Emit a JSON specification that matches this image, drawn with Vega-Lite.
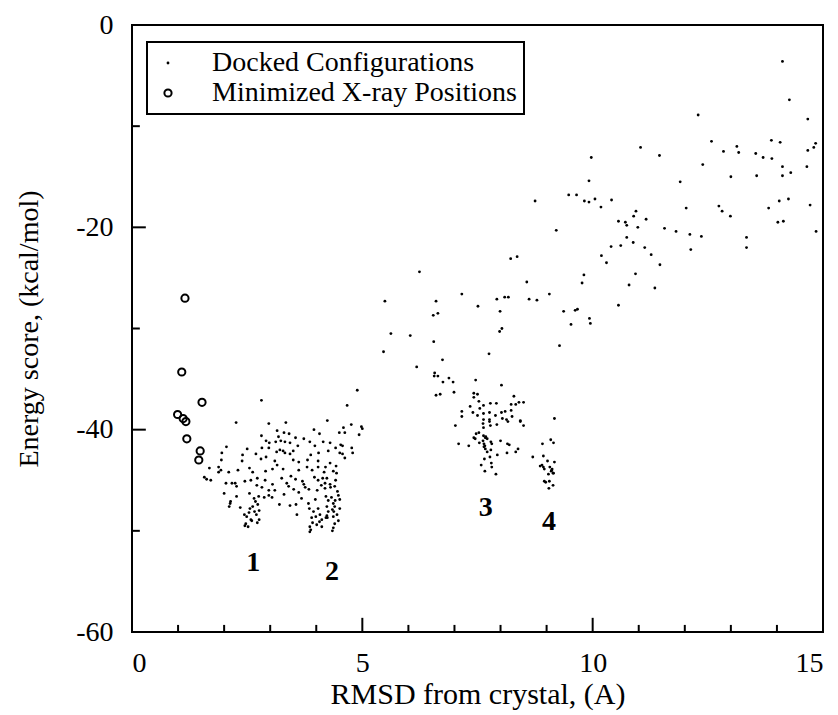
{
  "$schema": "https://vega.github.io/schema/vega-lite/v6.json",
  "width": 691,
  "height": 607,
  "autosize": "none",
  "padding": {"left": 132, "top": 25, "right": 15, "bottom": 83},
  "background": "white",
  "config": {
    "view": {"stroke": "black", "strokeWidth": 2},
    "font": "Liberation Serif",
    "scale": {"continuousPadding": 0},
    "axis": {
      "grid": false,
      "domain": false,
      "ticks": false,
      "labelColor": "black",
      "titleColor": "black",
      "labelFont": "Liberation Serif",
      "titleFont": "Liberation Serif",
      "titleFontWeight": "normal"
    },
    "legend": {
      "orient": "none",
      "legendX": 15,
      "legendY": 17,
      "strokeColor": "black",
      "strokeWidth": 2,
      "fillColor": "white",
      "padding": 7,
      "rowPadding": 2,
      "labelFont": "Liberation Serif",
      "labelFontSize": 28,
      "labelColor": "black",
      "labelLimit": 500,
      "labelOffset": 30,
      "symbolType": "circle"
    }
  },
  "datasets": {
    "pts": [
      {"rmsd": 14.12, "energy": -3.6, "set": "D"},
      {"rmsd": 14.27, "energy": -7.4, "set": "D"},
      {"rmsd": 12.29, "energy": -8.9, "set": "D"},
      {"rmsd": 14.67, "energy": -9.3, "set": "D"},
      {"rmsd": 11.04, "energy": -12.1, "set": "D"},
      {"rmsd": 11.45, "energy": -12.9, "set": "D"},
      {"rmsd": 12.58, "energy": -11.5, "set": "D"},
      {"rmsd": 13.13, "energy": -12.0, "set": "D"},
      {"rmsd": 12.84, "energy": -12.5, "set": "D"},
      {"rmsd": 13.17, "energy": -12.6, "set": "D"},
      {"rmsd": 13.88, "energy": -11.4, "set": "D"},
      {"rmsd": 14.07, "energy": -11.6, "set": "D"},
      {"rmsd": 13.54, "energy": -12.7, "set": "D"},
      {"rmsd": 13.70, "energy": -13.1, "set": "D"},
      {"rmsd": 13.89, "energy": -13.2, "set": "D"},
      {"rmsd": 14.84, "energy": -11.7, "set": "D"},
      {"rmsd": 14.80, "energy": -12.1, "set": "D"},
      {"rmsd": 14.67, "energy": -12.4, "set": "D"},
      {"rmsd": 12.39, "energy": -13.8, "set": "D"},
      {"rmsd": 14.12, "energy": -14.0, "set": "D"},
      {"rmsd": 14.30, "energy": -14.6, "set": "D"},
      {"rmsd": 14.65, "energy": -14.0, "set": "D"},
      {"rmsd": 13.00, "energy": -15.0, "set": "D"},
      {"rmsd": 13.56, "energy": -14.9, "set": "D"},
      {"rmsd": 14.12, "energy": -14.9, "set": "D"},
      {"rmsd": 11.90, "energy": -15.5, "set": "D"},
      {"rmsd": 10.41, "energy": -17.3, "set": "D"},
      {"rmsd": 10.18, "energy": -18.0, "set": "D"},
      {"rmsd": 10.94, "energy": -18.4, "set": "D"},
      {"rmsd": 10.89, "energy": -18.9, "set": "D"},
      {"rmsd": 10.56, "energy": -19.4, "set": "D"},
      {"rmsd": 10.71, "energy": -19.5, "set": "D"},
      {"rmsd": 10.74, "energy": -19.8, "set": "D"},
      {"rmsd": 10.98, "energy": -20.0, "set": "D"},
      {"rmsd": 11.16, "energy": -19.2, "set": "D"},
      {"rmsd": 12.03, "energy": -18.1, "set": "D"},
      {"rmsd": 12.74, "energy": -17.9, "set": "D"},
      {"rmsd": 12.81, "energy": -18.4, "set": "D"},
      {"rmsd": 12.99, "energy": -18.9, "set": "D"},
      {"rmsd": 13.82, "energy": -18.1, "set": "D"},
      {"rmsd": 14.05, "energy": -17.4, "set": "D"},
      {"rmsd": 14.25, "energy": -17.2, "set": "D"},
      {"rmsd": 14.72, "energy": -17.8, "set": "D"},
      {"rmsd": 14.02, "energy": -19.5, "set": "D"},
      {"rmsd": 14.14, "energy": -19.4, "set": "D"},
      {"rmsd": 14.85, "energy": -20.4, "set": "D"},
      {"rmsd": 11.56, "energy": -20.1, "set": "D"},
      {"rmsd": 11.81, "energy": -20.4, "set": "D"},
      {"rmsd": 12.11, "energy": -20.7, "set": "D"},
      {"rmsd": 12.36, "energy": -20.9, "set": "D"},
      {"rmsd": 13.34, "energy": -21.0, "set": "D"},
      {"rmsd": 13.34, "energy": -22.0, "set": "D"},
      {"rmsd": 12.13, "energy": -22.2, "set": "D"},
      {"rmsd": 10.74, "energy": -21.0, "set": "D"},
      {"rmsd": 10.88, "energy": -21.5, "set": "D"},
      {"rmsd": 10.61, "energy": -21.8, "set": "D"},
      {"rmsd": 10.40, "energy": -21.9, "set": "D"},
      {"rmsd": 11.13, "energy": -22.0, "set": "D"},
      {"rmsd": 11.27, "energy": -22.7, "set": "D"},
      {"rmsd": 10.19, "energy": -22.8, "set": "D"},
      {"rmsd": 10.30, "energy": -23.5, "set": "D"},
      {"rmsd": 11.46, "energy": -23.7, "set": "D"},
      {"rmsd": 10.93, "energy": -24.6, "set": "D"},
      {"rmsd": 10.79, "energy": -25.7, "set": "D"},
      {"rmsd": 11.35, "energy": -26.0, "set": "D"},
      {"rmsd": 10.56, "energy": -27.7, "set": "D"},
      {"rmsd": 9.97, "energy": -13.1, "set": "D"},
      {"rmsd": 9.92, "energy": -15.4, "set": "D"},
      {"rmsd": 9.48, "energy": -16.8, "set": "D"},
      {"rmsd": 9.65, "energy": -16.8, "set": "D"},
      {"rmsd": 9.82, "energy": -17.4, "set": "D"},
      {"rmsd": 9.92, "energy": -17.5, "set": "D"},
      {"rmsd": 10.05, "energy": -17.2, "set": "D"},
      {"rmsd": 8.75, "energy": -17.4, "set": "D"},
      {"rmsd": 9.21, "energy": -20.3, "set": "D"},
      {"rmsd": 8.36, "energy": -22.9, "set": "D"},
      {"rmsd": 8.22, "energy": -23.1, "set": "D"},
      {"rmsd": 9.81, "energy": -24.7, "set": "D"},
      {"rmsd": 9.77, "energy": -25.5, "set": "D"},
      {"rmsd": 6.24, "energy": -24.4, "set": "D"},
      {"rmsd": 8.57, "energy": -25.4, "set": "D"},
      {"rmsd": 7.16, "energy": -26.6, "set": "D"},
      {"rmsd": 9.06, "energy": -26.6, "set": "D"},
      {"rmsd": 6.60, "energy": -27.3, "set": "D"},
      {"rmsd": 7.92, "energy": -27.1, "set": "D"},
      {"rmsd": 8.09, "energy": -26.9, "set": "D"},
      {"rmsd": 8.17, "energy": -26.9, "set": "D"},
      {"rmsd": 8.62, "energy": -27.1, "set": "D"},
      {"rmsd": 8.79, "energy": -27.2, "set": "D"},
      {"rmsd": 7.51, "energy": -27.8, "set": "D"},
      {"rmsd": 7.99, "energy": -28.3, "set": "D"},
      {"rmsd": 9.37, "energy": -28.3, "set": "D"},
      {"rmsd": 9.62, "energy": -28.2, "set": "D"},
      {"rmsd": 9.67, "energy": -28.1, "set": "D"},
      {"rmsd": 6.54, "energy": -28.7, "set": "D"},
      {"rmsd": 6.64, "energy": -28.5, "set": "D"},
      {"rmsd": 9.93, "energy": -29.0, "set": "D"},
      {"rmsd": 9.95, "energy": -29.5, "set": "D"},
      {"rmsd": 9.53, "energy": -29.6, "set": "D"},
      {"rmsd": 8.03, "energy": -30.0, "set": "D"},
      {"rmsd": 7.98, "energy": -30.3, "set": "D"},
      {"rmsd": 6.04, "energy": -30.7, "set": "D"},
      {"rmsd": 6.55, "energy": -31.3, "set": "D"},
      {"rmsd": 9.28, "energy": -31.7, "set": "D"},
      {"rmsd": 7.75, "energy": -32.5, "set": "D"},
      {"rmsd": 6.74, "energy": -33.1, "set": "D"},
      {"rmsd": 6.18, "energy": -33.8, "set": "D"},
      {"rmsd": 6.57, "energy": -34.4, "set": "D"},
      {"rmsd": 6.56, "energy": -34.7, "set": "D"},
      {"rmsd": 6.64, "energy": -34.7, "set": "D"},
      {"rmsd": 6.88, "energy": -34.9, "set": "D"},
      {"rmsd": 6.75, "energy": -35.3, "set": "D"},
      {"rmsd": 6.97, "energy": -35.3, "set": "D"},
      {"rmsd": 7.46, "energy": -35.1, "set": "D"},
      {"rmsd": 8.02, "energy": -35.6, "set": "D"},
      {"rmsd": 6.60, "energy": -36.6, "set": "D"},
      {"rmsd": 6.69, "energy": -36.5, "set": "D"},
      {"rmsd": 6.99, "energy": -36.3, "set": "D"},
      {"rmsd": 7.42, "energy": -36.4, "set": "D"},
      {"rmsd": 7.50, "energy": -36.5, "set": "D"},
      {"rmsd": 7.42, "energy": -36.8, "set": "D"},
      {"rmsd": 7.53, "energy": -37.2, "set": "D"},
      {"rmsd": 8.29, "energy": -36.7, "set": "D"},
      {"rmsd": 7.63, "energy": -37.6, "set": "D"},
      {"rmsd": 7.78, "energy": -37.4, "set": "D"},
      {"rmsd": 7.91, "energy": -37.4, "set": "D"},
      {"rmsd": 8.23, "energy": -37.5, "set": "D"},
      {"rmsd": 8.40, "energy": -37.3, "set": "D"},
      {"rmsd": 8.50, "energy": -37.3, "set": "D"},
      {"rmsd": 8.33, "energy": -37.5, "set": "D"},
      {"rmsd": 7.34, "energy": -37.7, "set": "D"},
      {"rmsd": 7.55, "energy": -37.9, "set": "D"},
      {"rmsd": 7.16, "energy": -38.2, "set": "D"},
      {"rmsd": 7.16, "energy": -38.7, "set": "D"},
      {"rmsd": 7.40, "energy": -38.3, "set": "D"},
      {"rmsd": 7.50, "energy": -38.6, "set": "D"},
      {"rmsd": 7.63, "energy": -38.4, "set": "D"},
      {"rmsd": 7.76, "energy": -38.3, "set": "D"},
      {"rmsd": 7.89, "energy": -38.6, "set": "D"},
      {"rmsd": 8.02, "energy": -38.3, "set": "D"},
      {"rmsd": 8.10, "energy": -38.2, "set": "D"},
      {"rmsd": 8.23, "energy": -38.1, "set": "D"},
      {"rmsd": 8.25, "energy": -38.7, "set": "D"},
      {"rmsd": 7.63, "energy": -39.0, "set": "D"},
      {"rmsd": 7.76, "energy": -39.0, "set": "D"},
      {"rmsd": 7.76, "energy": -39.2, "set": "D"},
      {"rmsd": 8.04, "energy": -38.9, "set": "D"},
      {"rmsd": 8.13, "energy": -39.0, "set": "D"},
      {"rmsd": 8.16, "energy": -39.2, "set": "D"},
      {"rmsd": 8.43, "energy": -39.1, "set": "D"},
      {"rmsd": 8.43, "energy": -39.2, "set": "D"},
      {"rmsd": 7.02, "energy": -39.6, "set": "D"},
      {"rmsd": 7.62, "energy": -39.4, "set": "D"},
      {"rmsd": 7.63, "energy": -39.8, "set": "D"},
      {"rmsd": 7.78, "energy": -39.6, "set": "D"},
      {"rmsd": 7.92, "energy": -39.5, "set": "D"},
      {"rmsd": 8.50, "energy": -39.6, "set": "D"},
      {"rmsd": 7.47, "energy": -40.4, "set": "D"},
      {"rmsd": 7.53, "energy": -40.3, "set": "D"},
      {"rmsd": 7.42, "energy": -40.8, "set": "D"},
      {"rmsd": 7.45, "energy": -40.9, "set": "D"},
      {"rmsd": 7.63, "energy": -40.6, "set": "D"},
      {"rmsd": 7.67, "energy": -40.8, "set": "D"},
      {"rmsd": 7.71, "energy": -40.9, "set": "D"},
      {"rmsd": 7.09, "energy": -41.4, "set": "D"},
      {"rmsd": 7.31, "energy": -41.6, "set": "D"},
      {"rmsd": 7.54, "energy": -41.3, "set": "D"},
      {"rmsd": 7.64, "energy": -41.4, "set": "D"},
      {"rmsd": 7.64, "energy": -41.7, "set": "D"},
      {"rmsd": 7.67, "energy": -41.9, "set": "D"},
      {"rmsd": 7.79, "energy": -41.2, "set": "D"},
      {"rmsd": 7.81, "energy": -41.4, "set": "D"},
      {"rmsd": 8.00, "energy": -41.1, "set": "D"},
      {"rmsd": 8.15, "energy": -41.4, "set": "D"},
      {"rmsd": 8.19, "energy": -41.5, "set": "D"},
      {"rmsd": 8.33, "energy": -42.2, "set": "D"},
      {"rmsd": 8.38, "energy": -41.9, "set": "D"},
      {"rmsd": 7.71, "energy": -42.2, "set": "D"},
      {"rmsd": 7.79, "energy": -42.0, "set": "D"},
      {"rmsd": 7.93, "energy": -42.5, "set": "D"},
      {"rmsd": 8.14, "energy": -42.3, "set": "D"},
      {"rmsd": 7.65, "energy": -42.9, "set": "D"},
      {"rmsd": 7.77, "energy": -42.7, "set": "D"},
      {"rmsd": 7.80, "energy": -43.3, "set": "D"},
      {"rmsd": 7.58, "energy": -43.5, "set": "D"},
      {"rmsd": 7.66, "energy": -44.1, "set": "D"},
      {"rmsd": 7.81, "energy": -43.7, "set": "D"},
      {"rmsd": 7.90, "energy": -44.4, "set": "D"},
      {"rmsd": 7.66, "energy": -41.6, "set": "D"},
      {"rmsd": 7.62, "energy": -41.1, "set": "D"},
      {"rmsd": 7.68, "energy": -40.7, "set": "D"},
      {"rmsd": 9.17, "energy": -38.9, "set": "D"},
      {"rmsd": 8.91, "energy": -41.4, "set": "D"},
      {"rmsd": 9.09, "energy": -41.0, "set": "D"},
      {"rmsd": 9.15, "energy": -41.3, "set": "D"},
      {"rmsd": 8.70, "energy": -42.7, "set": "D"},
      {"rmsd": 8.93, "energy": -42.6, "set": "D"},
      {"rmsd": 9.02, "energy": -43.1, "set": "D"},
      {"rmsd": 9.17, "energy": -43.2, "set": "D"},
      {"rmsd": 8.86, "energy": -43.6, "set": "D"},
      {"rmsd": 8.93, "energy": -43.7, "set": "D"},
      {"rmsd": 8.95, "energy": -43.9, "set": "D"},
      {"rmsd": 9.07, "energy": -43.7, "set": "D"},
      {"rmsd": 9.11, "energy": -44.0, "set": "D"},
      {"rmsd": 9.14, "energy": -44.3, "set": "D"},
      {"rmsd": 9.04, "energy": -44.4, "set": "D"},
      {"rmsd": 9.15, "energy": -44.3, "set": "D"},
      {"rmsd": 8.95, "energy": -45.1, "set": "D"},
      {"rmsd": 8.98, "energy": -45.2, "set": "D"},
      {"rmsd": 9.06, "energy": -45.1, "set": "D"},
      {"rmsd": 9.14, "energy": -45.5, "set": "D"},
      {"rmsd": 9.05, "energy": -45.8, "set": "D"},
      {"rmsd": 9.10, "energy": -44.1, "set": "D"},
      {"rmsd": 9.12, "energy": -43.9, "set": "D"},
      {"rmsd": 8.90, "energy": -43.5, "set": "D"},
      {"rmsd": 5.49, "energy": -27.3, "set": "D"},
      {"rmsd": 5.62, "energy": -30.5, "set": "D"},
      {"rmsd": 5.46, "energy": -32.3, "set": "D"},
      {"rmsd": 4.89, "energy": -36.1, "set": "D"},
      {"rmsd": 4.67, "energy": -37.6, "set": "D"},
      {"rmsd": 2.81, "energy": -37.1, "set": "D"},
      {"rmsd": 2.26, "energy": -39.3, "set": "D"},
      {"rmsd": 2.97, "energy": -39.4, "set": "D"},
      {"rmsd": 3.34, "energy": -39.3, "set": "D"},
      {"rmsd": 4.24, "energy": -39.1, "set": "D"},
      {"rmsd": 4.59, "energy": -39.8, "set": "D"},
      {"rmsd": 4.76, "energy": -39.5, "set": "D"},
      {"rmsd": 4.98, "energy": -39.7, "set": "D"},
      {"rmsd": 5.00, "energy": -39.9, "set": "D"},
      {"rmsd": 4.07, "energy": -40.4, "set": "D"},
      {"rmsd": 3.95, "energy": -40.0, "set": "D"},
      {"rmsd": 2.81, "energy": -40.6, "set": "D"},
      {"rmsd": 3.18, "energy": -40.7, "set": "D"},
      {"rmsd": 3.41, "energy": -40.4, "set": "D"},
      {"rmsd": 2.05, "energy": -41.7, "set": "D"},
      {"rmsd": 2.91, "energy": -41.1, "set": "D"},
      {"rmsd": 3.12, "energy": -41.2, "set": "D"},
      {"rmsd": 3.23, "energy": -41.1, "set": "D"},
      {"rmsd": 3.32, "energy": -41.2, "set": "D"},
      {"rmsd": 3.43, "energy": -41.3, "set": "D"},
      {"rmsd": 3.86, "energy": -41.2, "set": "D"},
      {"rmsd": 3.73, "energy": -40.9, "set": "D"},
      {"rmsd": 2.82, "energy": -41.8, "set": "D"},
      {"rmsd": 2.97, "energy": -41.8, "set": "D"},
      {"rmsd": 2.98, "energy": -41.3, "set": "D"},
      {"rmsd": 3.14, "energy": -42.2, "set": "D"},
      {"rmsd": 3.21, "energy": -42.0, "set": "D"},
      {"rmsd": 3.28, "energy": -42.1, "set": "D"},
      {"rmsd": 3.32, "energy": -42.3, "set": "D"},
      {"rmsd": 3.43, "energy": -42.4, "set": "D"},
      {"rmsd": 3.50, "energy": -42.1, "set": "D"},
      {"rmsd": 1.94, "energy": -43.0, "set": "D"},
      {"rmsd": 2.39, "energy": -43.1, "set": "D"},
      {"rmsd": 1.68, "energy": -43.8, "set": "D"},
      {"rmsd": 1.88, "energy": -44.2, "set": "D"},
      {"rmsd": 2.10, "energy": -44.2, "set": "D"},
      {"rmsd": 1.57, "energy": -44.7, "set": "D"},
      {"rmsd": 1.71, "energy": -45.0, "set": "D"},
      {"rmsd": 2.69, "energy": -42.4, "set": "D"},
      {"rmsd": 2.91, "energy": -42.7, "set": "D"},
      {"rmsd": 2.80, "energy": -42.9, "set": "D"},
      {"rmsd": 3.10, "energy": -43.1, "set": "D"},
      {"rmsd": 3.15, "energy": -43.5, "set": "D"},
      {"rmsd": 3.05, "energy": -43.9, "set": "D"},
      {"rmsd": 3.28, "energy": -43.9, "set": "D"},
      {"rmsd": 3.50, "energy": -43.0, "set": "D"},
      {"rmsd": 3.62, "energy": -43.2, "set": "D"},
      {"rmsd": 3.81, "energy": -43.0, "set": "D"},
      {"rmsd": 3.80, "energy": -43.7, "set": "D"},
      {"rmsd": 4.04, "energy": -43.1, "set": "D"},
      {"rmsd": 4.04, "energy": -43.7, "set": "D"},
      {"rmsd": 4.20, "energy": -43.7, "set": "D"},
      {"rmsd": 3.62, "energy": -44.0, "set": "D"},
      {"rmsd": 3.91, "energy": -44.0, "set": "D"},
      {"rmsd": 2.04, "energy": -45.3, "set": "D"},
      {"rmsd": 2.17, "energy": -45.3, "set": "D"},
      {"rmsd": 2.27, "energy": -45.6, "set": "D"},
      {"rmsd": 2.45, "energy": -45.1, "set": "D"},
      {"rmsd": 2.58, "energy": -45.0, "set": "D"},
      {"rmsd": 2.72, "energy": -44.8, "set": "D"},
      {"rmsd": 2.89, "energy": -45.0, "set": "D"},
      {"rmsd": 2.71, "energy": -45.5, "set": "D"},
      {"rmsd": 2.82, "energy": -45.7, "set": "D"},
      {"rmsd": 2.97, "energy": -46.0, "set": "D"},
      {"rmsd": 3.10, "energy": -46.0, "set": "D"},
      {"rmsd": 3.05, "energy": -45.4, "set": "D"},
      {"rmsd": 3.36, "energy": -45.3, "set": "D"},
      {"rmsd": 3.40, "energy": -45.6, "set": "D"},
      {"rmsd": 3.51, "energy": -45.9, "set": "D"},
      {"rmsd": 3.62, "energy": -46.2, "set": "D"},
      {"rmsd": 3.73, "energy": -45.4, "set": "D"},
      {"rmsd": 3.76, "energy": -45.7, "set": "D"},
      {"rmsd": 3.84, "energy": -45.9, "set": "D"},
      {"rmsd": 3.70, "energy": -45.1, "set": "D"},
      {"rmsd": 3.96, "energy": -44.7, "set": "D"},
      {"rmsd": 4.04, "energy": -45.0, "set": "D"},
      {"rmsd": 4.11, "energy": -45.5, "set": "D"},
      {"rmsd": 4.19, "energy": -45.8, "set": "D"},
      {"rmsd": 4.02, "energy": -46.0, "set": "D"},
      {"rmsd": 2.14, "energy": -47.1, "set": "D"},
      {"rmsd": 2.35, "energy": -47.7, "set": "D"},
      {"rmsd": 2.68, "energy": -47.1, "set": "D"},
      {"rmsd": 2.73, "energy": -47.4, "set": "D"},
      {"rmsd": 2.76, "energy": -48.0, "set": "D"},
      {"rmsd": 2.56, "energy": -47.8, "set": "D"},
      {"rmsd": 2.44, "energy": -48.4, "set": "D"},
      {"rmsd": 2.49, "energy": -48.6, "set": "D"},
      {"rmsd": 2.54, "energy": -48.2, "set": "D"},
      {"rmsd": 2.58, "energy": -48.9, "set": "D"},
      {"rmsd": 2.70, "energy": -48.4, "set": "D"},
      {"rmsd": 2.76, "energy": -48.9, "set": "D"},
      {"rmsd": 2.47, "energy": -49.3, "set": "D"},
      {"rmsd": 2.45, "energy": -49.5, "set": "D"},
      {"rmsd": 2.97, "energy": -46.5, "set": "D"},
      {"rmsd": 3.04, "energy": -46.7, "set": "D"},
      {"rmsd": 2.87, "energy": -46.7, "set": "D"},
      {"rmsd": 3.43, "energy": -47.5, "set": "D"},
      {"rmsd": 3.56, "energy": -47.4, "set": "D"},
      {"rmsd": 3.58, "energy": -48.4, "set": "D"},
      {"rmsd": 3.85, "energy": -47.8, "set": "D"},
      {"rmsd": 3.94, "energy": -48.1, "set": "D"},
      {"rmsd": 3.90, "energy": -48.7, "set": "D"},
      {"rmsd": 3.86, "energy": -49.6, "set": "D"},
      {"rmsd": 3.86, "energy": -50.1, "set": "D"},
      {"rmsd": 4.04, "energy": -47.8, "set": "D"},
      {"rmsd": 4.08, "energy": -48.4, "set": "D"},
      {"rmsd": 3.99, "energy": -48.6, "set": "D"},
      {"rmsd": 4.12, "energy": -48.9, "set": "D"},
      {"rmsd": 4.21, "energy": -48.7, "set": "D"},
      {"rmsd": 4.01, "energy": -49.4, "set": "D"},
      {"rmsd": 4.07, "energy": -49.1, "set": "D"},
      {"rmsd": 4.50, "energy": -40.3, "set": "D"},
      {"rmsd": 4.62, "energy": -40.3, "set": "D"},
      {"rmsd": 4.93, "energy": -40.5, "set": "D"},
      {"rmsd": 4.15, "energy": -41.2, "set": "D"},
      {"rmsd": 4.30, "energy": -41.3, "set": "D"},
      {"rmsd": 4.53, "energy": -41.5, "set": "D"},
      {"rmsd": 4.57, "energy": -41.6, "set": "D"},
      {"rmsd": 4.42, "energy": -41.8, "set": "D"},
      {"rmsd": 4.26, "energy": -42.1, "set": "D"},
      {"rmsd": 4.51, "energy": -42.3, "set": "D"},
      {"rmsd": 4.57, "energy": -42.4, "set": "D"},
      {"rmsd": 4.77, "energy": -41.8, "set": "D"},
      {"rmsd": 4.79, "energy": -42.3, "set": "D"},
      {"rmsd": 4.62, "energy": -42.8, "set": "D"},
      {"rmsd": 4.30, "energy": -43.3, "set": "D"},
      {"rmsd": 4.43, "energy": -43.6, "set": "D"},
      {"rmsd": 4.37, "energy": -44.1, "set": "D"},
      {"rmsd": 4.44, "energy": -44.3, "set": "D"},
      {"rmsd": 4.17, "energy": -44.2, "set": "D"},
      {"rmsd": 4.14, "energy": -44.8, "set": "D"},
      {"rmsd": 4.23, "energy": -44.8, "set": "D"},
      {"rmsd": 4.19, "energy": -45.3, "set": "D"},
      {"rmsd": 4.42, "energy": -45.0, "set": "D"},
      {"rmsd": 4.40, "energy": -45.6, "set": "D"},
      {"rmsd": 4.30, "energy": -45.4, "set": "D"},
      {"rmsd": 4.31, "energy": -45.7, "set": "D"},
      {"rmsd": 4.46, "energy": -46.1, "set": "D"},
      {"rmsd": 4.48, "energy": -46.5, "set": "D"},
      {"rmsd": 4.21, "energy": -46.6, "set": "D"},
      {"rmsd": 4.26, "energy": -47.0, "set": "D"},
      {"rmsd": 4.51, "energy": -46.9, "set": "D"},
      {"rmsd": 4.37, "energy": -47.3, "set": "D"},
      {"rmsd": 4.40, "energy": -47.6, "set": "D"},
      {"rmsd": 4.35, "energy": -47.9, "set": "D"},
      {"rmsd": 4.38, "energy": -48.1, "set": "D"},
      {"rmsd": 4.23, "energy": -47.6, "set": "D"},
      {"rmsd": 4.26, "energy": -48.1, "set": "D"},
      {"rmsd": 4.51, "energy": -47.8, "set": "D"},
      {"rmsd": 4.23, "energy": -48.5, "set": "D"},
      {"rmsd": 4.24, "energy": -48.7, "set": "D"},
      {"rmsd": 4.37, "energy": -48.6, "set": "D"},
      {"rmsd": 4.48, "energy": -49.0, "set": "D"},
      {"rmsd": 4.40, "energy": -49.3, "set": "D"},
      {"rmsd": 4.37, "energy": -49.7, "set": "D"},
      {"rmsd": 4.35, "energy": -50.0, "set": "D"},
      {"rmsd": 4.12, "energy": -49.6, "set": "D"},
      {"rmsd": 1.88, "energy": -43.7, "set": "D"},
      {"rmsd": 1.93, "energy": -44.0, "set": "D"},
      {"rmsd": 1.62, "energy": -44.9, "set": "D"},
      {"rmsd": 2.13, "energy": -47.3, "set": "D"},
      {"rmsd": 2.11, "energy": -47.6, "set": "D"},
      {"rmsd": 2.27, "energy": -46.6, "set": "D"},
      {"rmsd": 2.24, "energy": -45.3, "set": "D"},
      {"rmsd": 2.62, "energy": -47.6, "set": "D"},
      {"rmsd": 2.66, "energy": -48.1, "set": "D"},
      {"rmsd": 2.60, "energy": -49.0, "set": "D"},
      {"rmsd": 2.52, "energy": -49.6, "set": "D"},
      {"rmsd": 2.72, "energy": -49.2, "set": "D"},
      {"rmsd": 2.65, "energy": -46.8, "set": "D"},
      {"rmsd": 2.75, "energy": -46.6, "set": "D"},
      {"rmsd": 2.55, "energy": -46.3, "set": "D"},
      {"rmsd": 3.92, "energy": -49.2, "set": "D"},
      {"rmsd": 3.88, "energy": -49.9, "set": "D"},
      {"rmsd": 4.41, "energy": -47.0, "set": "D"},
      {"rmsd": 4.33, "energy": -46.7, "set": "D"},
      {"rmsd": 4.45, "energy": -48.4, "set": "D"},
      {"rmsd": 3.83, "energy": -47.3, "set": "D"},
      {"rmsd": 3.98, "energy": -46.9, "set": "D"},
      {"rmsd": 3.45, "energy": -44.6, "set": "D"},
      {"rmsd": 3.55, "energy": -44.9, "set": "D"},
      {"rmsd": 3.25, "energy": -44.8, "set": "D"},
      {"rmsd": 3.30, "energy": -46.4, "set": "D"},
      {"rmsd": 3.68, "energy": -46.8, "set": "D"},
      {"rmsd": 3.20, "energy": -47.4, "set": "D"},
      {"rmsd": 2.30, "energy": -44.0, "set": "D"},
      {"rmsd": 2.55, "energy": -43.8, "set": "D"},
      {"rmsd": 2.62, "energy": -44.2, "set": "D"},
      {"rmsd": 2.00, "energy": -46.3, "set": "D"},
      {"rmsd": 2.90, "energy": -44.1, "set": "D"},
      {"rmsd": 3.15, "energy": -40.1, "set": "D"},
      {"rmsd": 3.30, "energy": -40.3, "set": "D"},
      {"rmsd": 3.55, "energy": -40.8, "set": "D"},
      {"rmsd": 3.60, "energy": -41.6, "set": "D"},
      {"rmsd": 3.97, "energy": -41.6, "set": "D"},
      {"rmsd": 4.05, "energy": -42.3, "set": "D"},
      {"rmsd": 3.88, "energy": -42.5, "set": "D"},
      {"rmsd": 2.50, "energy": -41.9, "set": "D"},
      {"rmsd": 2.40, "energy": -42.5, "set": "D"},
      {"rmsd": 1.95, "energy": -42.3, "set": "D"},
      {"rmsd": 1.15, "energy": -27.0, "set": "X"},
      {"rmsd": 1.08, "energy": -34.3, "set": "X"},
      {"rmsd": 1.52, "energy": -37.3, "set": "X"},
      {"rmsd": 0.99, "energy": -38.5, "set": "X"},
      {"rmsd": 1.11, "energy": -38.9, "set": "X"},
      {"rmsd": 1.17, "energy": -39.2, "set": "X"},
      {"rmsd": 1.19, "energy": -40.9, "set": "X"},
      {"rmsd": 1.48, "energy": -42.1, "set": "X"},
      {"rmsd": 1.45, "energy": -43.0, "set": "X"}
    ],
    "tags": [
      {"rmsd": 2.63, "energy": -53.2, "label": "1"},
      {"rmsd": 4.34, "energy": -54.1, "label": "2"},
      {"rmsd": 7.68, "energy": -47.7, "label": "3"},
      {"rmsd": 9.05, "energy": -49.1, "label": "4"}
    ],
    "xMajor": [{"rmsd": 5}, {"rmsd": 10}],
    "xMinor": [{"rmsd": 1}, {"rmsd": 2}, {"rmsd": 3}, {"rmsd": 4}, {"rmsd": 6}, {"rmsd": 7}, {"rmsd": 8}, {"rmsd": 9}, {"rmsd": 11}, {"rmsd": 12}, {"rmsd": 13}, {"rmsd": 14}],
    "yMajor": [{"energy": -20}, {"energy": -40}],
    "yMinor": [{"energy": -10}, {"energy": -30}, {"energy": -50}]
  },
  "layer": [
    {
      "data": {"name": "xMajor"},
      "mark": {"type": "bar", "orient": "vertical", "color": "black", "opacity": 1, "size": 2},
      "encoding": {
        "x": {"field": "rmsd", "type": "quantitative", "axis": null},
        "y": {"datum": -60, "type": "quantitative", "axis": null},
        "y2": {"datum": -58.6}
      }
    },
    {
      "data": {"name": "xMinor"},
      "mark": {"type": "bar", "orient": "vertical", "color": "black", "opacity": 1, "size": 2},
      "encoding": {
        "x": {"field": "rmsd", "type": "quantitative", "axis": null},
        "y": {"datum": -60, "type": "quantitative", "axis": null},
        "y2": {"datum": -59.3}
      }
    },
    {
      "data": {"name": "yMajor"},
      "mark": {"type": "bar", "orient": "horizontal", "color": "black", "opacity": 1, "size": 2},
      "encoding": {
        "y": {"field": "energy", "type": "quantitative", "axis": null},
        "x": {"datum": 0, "type": "quantitative", "axis": null},
        "x2": {"datum": 0.3}
      }
    },
    {
      "data": {"name": "yMinor"},
      "mark": {"type": "bar", "orient": "horizontal", "color": "black", "opacity": 1, "size": 2},
      "encoding": {
        "y": {"field": "energy", "type": "quantitative", "axis": null},
        "x": {"datum": 0, "type": "quantitative", "axis": null},
        "x2": {"datum": 0.17}
      }
    },
    {
      "data": {"name": "pts"},
      "mark": {"type": "point", "shape": "circle", "opacity": 1},
      "encoding": {
        "x": {
          "field": "rmsd", "type": "quantitative",
          "scale": {"domain": [0, 15], "nice": false, "zero": false, "padding": 0},
          "axis": {
            "orient": "bottom", "values": [0, 5, 10, 15], "labelExpr": "'' + datum.value",
            "labelPadding": 17, "labelFontSize": 28,
            "title": "RMSD from crystal, (A)", "titleFontSize": 30, "titlePadding": 2
          }
        },
        "y": {
          "field": "energy", "type": "quantitative",
          "scale": {"domain": [-60, 0], "nice": false, "zero": false, "padding": 0},
          "axis": {
            "orient": "left", "values": [0, -20, -40, -60], "labelExpr": "'' + datum.value",
            "labelPadding": 19, "labelFontSize": 28,
            "title": "Energy score, (kcal/mol)", "titleFontSize": 28, "titlePadding": 32
          }
        },
        "fill": {
          "field": "set", "type": "nominal",
          "scale": {"domain": ["D", "X"], "range": ["black", "transparent"]},
          "legend": {"title": null, "labelExpr": "datum.value == 'D' ? 'Docked Configurations' : 'Minimized X-ray Positions'"}
        },
        "stroke": {
          "field": "set", "type": "nominal",
          "scale": {"domain": ["D", "X"], "range": ["black", "black"]},
          "legend": {"title": null, "labelExpr": "datum.value == 'D' ? 'Docked Configurations' : 'Minimized X-ray Positions'"}
        },
        "strokeWidth": {
          "field": "set", "type": "nominal",
          "scale": {"domain": ["D", "X"], "range": [0, 2]},
          "legend": {"title": null, "labelExpr": "datum.value == 'D' ? 'Docked Configurations' : 'Minimized X-ray Positions'"}
        },
        "size": {
          "field": "set", "type": "nominal",
          "scale": {"domain": ["D", "X"], "range": [8, 52]},
          "legend": {"title": null, "labelExpr": "datum.value == 'D' ? 'Docked Configurations' : 'Minimized X-ray Positions'"}
        }
      }
    },
    {
      "data": {"name": "tags"},
      "mark": {"type": "text", "font": "Liberation Serif", "fontWeight": "bold", "fontSize": 28, "align": "center", "baseline": "middle", "color": "black"},
      "encoding": {
        "x": {"field": "rmsd", "type": "quantitative", "axis": null},
        "y": {"field": "energy", "type": "quantitative", "axis": null},
        "text": {"field": "label"}
      }
    }
  ],
  "resolve": {"axis": {"x": "independent", "y": "independent"}}
}
